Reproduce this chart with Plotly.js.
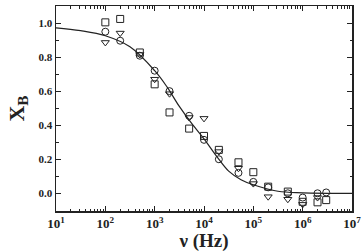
<!DOCTYPE html>
<html>
<head>
<meta charset="utf-8">
<script src="https://cdn.plot.ly/plotly-3.0.1.min.js"></script>
<style>
  html, body { margin: 0; padding: 0; background: #fff; }
  #chart { width: 363px; height: 252px; }
</style>
</head>
<body>
<div id="chart"></div>
<script>
// Measured fraction X_B versus frequency, three sample sets
var freqSquare = [100, 200, 500, 1000, 2000, 5000, 10000, 20000, 50000, 100000, 200000, 500000, 1000000, 2000000, 3000000];
var xbSquare   = [1.004, 1.024, 0.827, 0.64, 0.475, 0.38, 0.337, 0.255, 0.182, 0.124, 0.039, 0.01, -0.05, -0.053, -0.04];

var freqCircle = [100, 200, 500, 1000, 2000, 5000, 10000, 20000, 50000, 100000, 200000, 500000, 1000000, 2000000, 3000000];
var xbCircle   = [0.949, 0.896, 0.808, 0.72, 0.60, 0.455, 0.314, 0.20, 0.12, 0.067, 0.035, 0.0, -0.025, 0.0, 0.005];

var freqTriangle = [100, 200, 500, 1000, 2000, 5000, 10000, 20000, 50000, 100000, 200000, 500000, 1000000, 2000000];
var xbTriangle   = [0.886, 0.941, 0.815, 0.67, 0.585, 0.445, 0.44, 0.245, 0.147, 0.057, -0.02, -0.035, -0.065, -0.025];

// Fitted relaxation curve
var freqFit = [10, 31.6, 100, 316, 1000, 1778, 3162, 5623, 10000, 17783, 31623, 56234, 100000, 316228, 1000000, 10000000];
var xbFit   = [0.972, 0.955, 0.925, 0.86, 0.72, 0.625, 0.51, 0.41, 0.32, 0.22, 0.13, 0.08, 0.05, 0.012, 0.003, 0.0];

// Axis ticks
var xTickVals = [10, 100, 1000, 10000, 100000, 1000000, 10000000];
var xTickText = ['10<sup>1</sup>', '10<sup>2</sup>', '10<sup>3</sup>', '10<sup>4</sup>', '10<sup>5</sup>', '10<sup>6</sup>', '10<sup>7</sup>'];
var yTickVals = [0, 0.2, 0.4, 0.6, 0.8, 1.0];
var yTickText = ['0.0', '0.2', '0.4', '0.6', '0.8', '1.0'];

var ink = '#222';
var serif = '"Liberation Serif", "Times New Roman", serif';

function markerTrace(x, y, symbol) {
  return {
    x: x, y: y, type: 'scatter', mode: 'markers',
    marker: { symbol: symbol, size: 7, color: ink,
              line: { color: ink, width: 1 } },
    showlegend: false, hoverinfo: 'skip'
  };
}

var traces = [
  {
    x: freqFit, y: xbFit, type: 'scatter', mode: 'lines',
    line: { color: ink, width: 1.2, shape: 'spline', smoothing: 1 },
    showlegend: false, hoverinfo: 'skip'
  },
  markerTrace(freqSquare, xbSquare, 'square-open'),
  markerTrace(freqCircle, xbCircle, 'circle-open'),
  markerTrace(freqTriangle, xbTriangle, 'triangle-down-open')
];

var layout = {
  width: 363, height: 252,
  margin: { l: 56, r: 11, t: 6, b: 41 },
  paper_bgcolor: '#fff', plot_bgcolor: '#fff',
  font: { family: serif, color: ink },
  xaxis: {
    type: 'log', range: [1, 7],
    tickvals: xTickVals, ticktext: xTickText,
    ticks: 'inside', ticklen: 5, tickwidth: 1, tickcolor: ink,
    minor: { ticks: 'inside', ticklen: 2.5, tickwidth: 1, tickcolor: ink, dtick: 'D1', showgrid: false },
    showline: true, linecolor: ink, linewidth: 1.5, mirror: 'ticks',
    showgrid: false, zeroline: false,
    tickfont: { family: serif, size: 13, color: ink, weight: 'bold' },
    title: { text: '<b>\u03BD (Hz)</b>', font: { family: serif, size: 19, color: ink }, standoff: 12 }
  },
  yaxis: {
    range: [-0.104, 1.1],
    tickvals: yTickVals, ticktext: yTickText,
    ticks: 'inside', ticklen: 5, tickwidth: 1, tickcolor: ink,
    minor: { ticks: 'inside', ticklen: 2.5, tickwidth: 1, tickcolor: ink, dtick: 0.1, showgrid: false },
    showline: true, linecolor: ink, linewidth: 1.5, mirror: 'ticks',
    showgrid: false, zeroline: false,
    tickfont: { family: serif, size: 11, color: ink, weight: 'bold' },
    title: { text: '<b>X<sub>B</sub></b>', font: { family: serif, size: 22, color: ink }, standoff: 8 }
  }
};

Plotly.newPlot('chart', traces, layout, { displayModeBar: false, staticPlot: true });
</script>
</body>
</html>
